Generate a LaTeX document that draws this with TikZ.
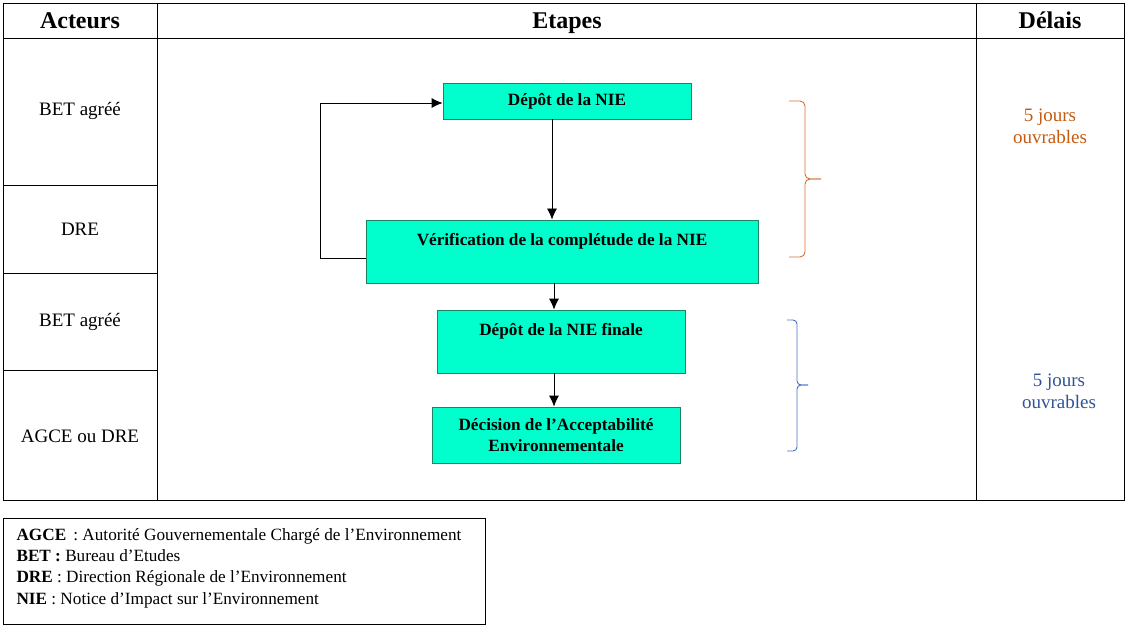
\documentclass[tikz,border=0pt]{standalone}
\usepackage{fontspec}
\setmainfont{Liberation Serif}
\usepackage{tikz}
\usetikzlibrary{positioning, arrows.meta}

\definecolor{boxfill}{RGB}{0,255,204}
\definecolor{boxline}{RGB}{30,130,100}
\definecolor{delayorange}{RGB}{197,90,17}
\definecolor{braceorange}{RGB}{214,110,50}
\definecolor{delayblue}{RGB}{47,84,150}
\definecolor{braceblue}{RGB}{68,114,196}

\tikzset{
  etape/.style={draw=boxline, fill=boxfill, line width=0.8pt, align=center,
    font=\fontsize{17.2}{21}\selectfont\bfseries, inner sep=4pt},
  entete/.style={anchor=base, font=\fontsize{24}{28}\selectfont\bfseries},
  acteur/.style={font=\fontsize{19}{22}\selectfont},
  delai/.style={align=center, font=\fontsize{19}{22}\selectfont},
  fleche/.style={-{Latex[length=11pt, width=10pt]}, line width=0.8pt},
}

\begin{document}
\begin{tikzpicture}[x=1pt, y=-1pt]
\useasboundingbox (0,0) rectangle (1127,631);
% table
\draw[line width=0.8pt] (3,3) rectangle (1124,500);
\draw[line width=0.8pt] (3,38) -- (1124,38);
\draw[line width=0.8pt] (157,3) -- (157,500);
\draw[line width=0.8pt] (976,3) -- (976,500);
\draw[line width=0.8pt] (3,185) -- (157,185);
\draw[line width=0.8pt] (3,273) -- (157,273);
\draw[line width=0.8pt] (3,370) -- (157,370);
\node[entete] (hA) at (80,29) {Acteurs};
\node[entete] (hE) at (567,29) {Etapes};
\node[entete] (hD) at (1050,29) {Délais};
% actors
\node[acteur] (a1) at (80,111) {BET agréé};
\node[acteur] (a2) at (80,229) {DRE};
\node[acteur] (a3) at (80,322) {BET agréé};
\node[acteur] (a4) at (80,436) {AGCE ou DRE};
% steps
\node[etape, minimum width=248pt, minimum height=36pt] (depot) at (567,101) {Dépôt de la NIE};
\node[etape, minimum width=392pt, minimum height=63pt] (verif) at (562,251.5) {Vérification de la complétude de la NIE\\[4pt]\mbox{}};
\node[etape, minimum width=248pt, minimum height=63pt] (final) at (561,341.5) {Dépôt de la NIE finale\\[3pt]\mbox{}};
\node[etape, minimum width=248pt, minimum height=56pt] (decision) at (556,435) {Décision de l’Acceptabilité\\Environnementale};
\coordinate (retour) at (320,258);
\draw[fleche] (depot.south -| 552,0) -- (verif.north -| 552,0);
\draw[fleche] (verif.south -| 554,0) -- (final.north -| 554,0);
\draw[fleche] (final.south -| 554,0) -- (decision.north -| 554,0);
\draw[fleche] (verif.west |- retour) -- (retour) |- (depot.west |- 0,103);
% braces
\draw[braceorange, line width=0.9pt, rounded corners=5pt] (789,101) -- (805,101) -- (805,179) -- (821,179);
\draw[braceorange, line width=0.9pt, rounded corners=5pt] (789,257) -- (805,257) -- (805,179) -- (821,179);
\draw[braceblue, line width=0.9pt, rounded corners=4pt] (787,320) -- (797,320) -- (797,385) -- (808,385);
\draw[braceblue, line width=0.9pt, rounded corners=4pt] (787,451) -- (797,451) -- (797,385) -- (808,385);
% delays
\node[delai, text=delayorange] (d1) at (1050,126) {5 jours\\ouvrables};
\node[delai, text=delayblue] (d2) at (1059,391) {5 jours\\ouvrables};
% legend
\draw[line width=0.8pt] (3,518) rectangle (485,624);
\node[anchor=west, align=left, font=\fontsize{17.2}{21.3}\selectfont] (legende) at (13,568)
  {\textbf{AGCE}\, : Autorité Gouvernementale Chargé de l’Environnement\\
   \textbf{BET :} Bureau d’Etudes\\
   \textbf{DRE} : Direction Régionale de l’Environnement\\
   \textbf{NIE} : Notice d’Impact sur l’Environnement};
\end{tikzpicture}
\end{document}
